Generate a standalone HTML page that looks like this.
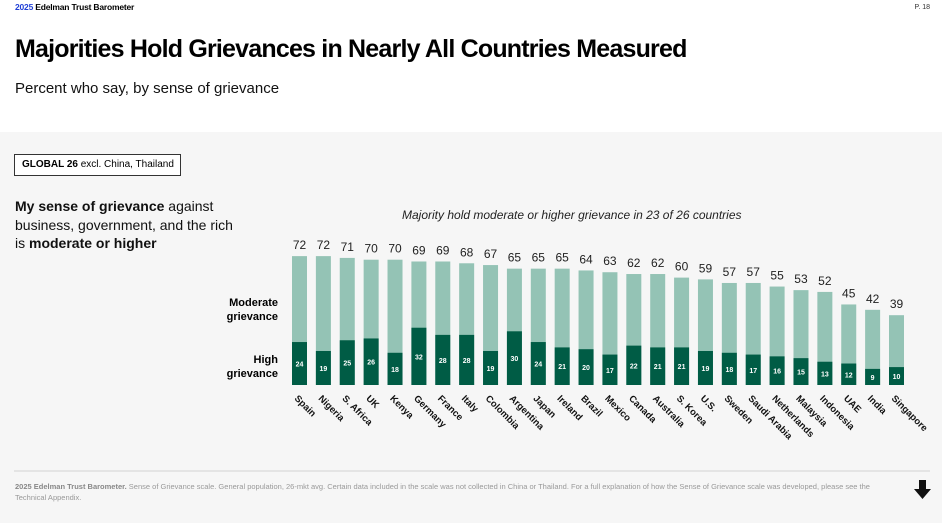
<!DOCTYPE html>
<html><head><meta charset="utf-8"><style>
body{margin:0;width:942px;height:523px;overflow:hidden;font-family:"Liberation Sans",sans-serif;background:#fff;position:relative}
.abs{position:absolute}
</style></head><body>
<div class="abs" style="left:15px;top:2px;font-size:8.5px;font-weight:bold;letter-spacing:-0.2px"><span style="color:#1f3fd6">2025</span> Edelman Trust Barometer</div>
<div class="abs" style="right:12px;top:4px;font-size:7px;color:#333">P. 18</div>
<div class="abs" style="left:15px;top:35px;font-size:25px;font-weight:bold;letter-spacing:-0.8px;color:#000">Majorities Hold Grievances in Nearly All Countries Measured</div>
<div class="abs" style="left:15px;top:80px;font-size:15px;color:#111">Percent who say, by sense of grievance</div>
<div class="abs" style="left:0;top:132px;width:942px;height:391px;background:#f6f6f6"></div>
<div class="abs" style="left:14px;top:154px;width:158px;height:20px;border:1px solid #333;background:#fff;font-size:10px;line-height:20px;padding-left:7px;box-sizing:content-box"><b>GLOBAL 26</b> excl. China, Thailand</div>
<div class="abs" style="left:15px;top:197px;font-size:14px;line-height:18.5px;color:#111;width:225px"><b>My sense of grievance</b> against business, government, and the rich is <b>moderate or higher</b></div>
<div class="abs" style="left:402px;top:208px;font-size:12px;font-style:italic;color:#222">Majority hold moderate or higher grievance in 23 of 26 countries</div>
<div class="abs" style="left:200px;top:297px;width:78px;text-align:right;font-size:11px;font-weight:bold;line-height:13.5px">Moderate<br>grievance</div>
<div class="abs" style="left:200px;top:354px;width:78px;text-align:right;font-size:11px;font-weight:bold;line-height:13.5px">High<br>grievance</div>
<svg class="abs" id="chart" style="left:0;top:0" width="942" height="470"></svg>
<div class="abs" style="left:14px;top:470px;width:916px;height:2px;background:#e4e4e4"></div>
<div class="abs" style="left:15px;top:482px;width:885px;font-size:7.5px;line-height:10.5px;color:#999"><b style="color:#888">2025 Edelman Trust Barometer.</b> Sense of Grievance scale. General population, 26-mkt avg. Certain data included in the scale was not collected in China or Thailand. For a full explanation of how the Sense of Grievance scale was developed, please see the Technical Appendix.</div>
<svg class="abs" style="left:913px;top:480px" width="20" height="20"><path d="M6 0h7v9h5l-8.5 10L1 9h5z" fill="#111"/></svg>
<script>
const countries=["Spain","Nigeria","S. Africa","UK","Kenya","Germany","France","Italy","Colombia","Argentina","Japan","Ireland","Brazil","Mexico","Canada","Australia","S. Korea","U.S.","Sweden","Saudi Arabia","Netherlands","Malaysia","Indonesia","UAE","India","Singapore"];
const totals=[72,72,71,70,70,69,69,68,67,65,65,65,64,63,62,62,60,59,57,57,55,53,52,45,42,39];
const high=[24,19,25,26,18,32,28,28,19,30,24,21,20,17,22,21,21,19,18,17,16,15,13,12,9,10];
const svg=document.getElementById('chart');
const NS='http://www.w3.org/2000/svg';
const x0=292,pitch=23.88,bw=15,base=385,k=1.79;
const xs=i=>x0+i*pitch, ys=v=>base-v*k;
function mk(t,a){const e=document.createElementNS(NS,t);for(const n in a)e.setAttribute(n,a[n]);svg.appendChild(e);return e;}
countries.forEach((c,i)=>{
  const x=xs(i);
  const m=mk('rect',{x:x,y:ys(totals[i]),width:bw,height:base-ys(totals[i]),fill:'#94c3b5'});
  
  
  const h=mk('rect',{x:x,y:ys(high[i]),width:bw,height:base-ys(high[i]),fill:'#005c45'});
  
  
  const hv=mk('text',{x:x+bw/2,y:ys(high[i])/2+base/2+3,'text-anchor':'middle','font-size':'7px','font-weight':'bold',fill:'#fff'});
  hv.textContent=high[i];
  
  
  const tv=mk('text',{x:x+bw/2,y:ys(totals[i])-7,'text-anchor':'middle','font-size':'12px',fill:'#222'});
  tv.textContent=totals[i];
  
  
  const lb=mk('text',{x:x+2,y:base+14,'font-size':'9.5px','font-weight':'bold',fill:'#111',transform:`rotate(45 ${x+2} ${base+14})`});
  lb.textContent=c;
  
  
});
</script>
</body></html>
